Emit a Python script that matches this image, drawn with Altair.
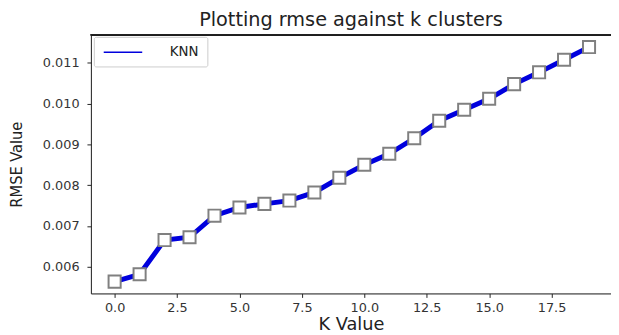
import altair as alt
import pandas as pd

k_values = list(range(20))
rmse_values = [0.00563, 0.00581, 0.00665, 0.00672, 0.00725, 0.00745, 0.00754,
               0.00762, 0.00782, 0.00818, 0.00850, 0.00877, 0.00915, 0.00958,
               0.00985, 0.01012, 0.01048, 0.01077, 0.01108, 0.01139]
series_name = ["KNN"] * 20
x_ticks = [0.0, 2.5, 5.0, 7.5, 10.0, 12.5, 15.0, 17.5]
y_ticks = [0.006, 0.007, 0.008, 0.009, 0.010, 0.011]

df = pd.DataFrame({"k": k_values, "rmse": rmse_values, "series": series_name})

W, H = 527, 262

x_enc = alt.X("k:Q", scale=alt.Scale(domain=[-0.95, 19.88], nice=False, zero=False),
              axis=alt.Axis(values=x_ticks, format=".1f", title="K Value", grid=False,
                            labelFont="DejaVu Sans", labelFontSize=13, labelColor="#333",
                            tickSize=4, labelPadding=4, domainColor="#222", tickColor="#222",
                            titleFont="DejaVu Sans", titleFontSize=18, titleFontWeight="normal",
                            titleColor="#222", titlePadding=2))
y_enc = alt.Y("rmse:Q", scale=alt.Scale(domain=[0.00534, 0.01169], nice=False, zero=False),
              axis=alt.Axis(values=y_ticks, format=".3f", title="RMSE Value", grid=False,
                            labelFont="DejaVu Sans", labelFontSize=13, labelColor="#333",
                            tickSize=4, labelPadding=8, domainColor="#222", tickColor="#222",
                            titleFont="DejaVu Sans Condensed", titleFontSize=16.5,
                            titleFontWeight="normal", titleColor="#222", titleX=-67))

line = alt.Chart(df).mark_line(strokeWidth=5, color="#0000dd").encode(
    x=x_enc, y=y_enc,
    color=alt.Color("series:N", scale=alt.Scale(range=["#0000dd"]),
                    legend=alt.Legend(title=None, orient="none", legendX=3, legendY=2,
                                      symbolType="M-3,0L3,0", symbolStrokeColor="#4a90c8",
                                      symbolStrokeWidth=1.5, symbolSize=169, symbolOffset=14,
                                      labelFont="DejaVu Sans", labelFontSize=13.5,
                                      labelColor="#222", labelOffset=40,
                                      strokeColor="#ccc", fillColor="white",
                                      padding=8, cornerRadius=2))
)
points = alt.Chart(df).mark_point(shape="square", filled=True, fill="white",
                                  stroke="#808080", strokeWidth=2, size=150, opacity=1).encode(
    x="k:Q", y="rmse:Q"
)
top_spine = alt.Chart(df).mark_rule(color="#222", strokeWidth=1).encode(
    x=alt.value(0), x2=alt.value(W), y=alt.value(0)
)

chart = alt.layer(line, points, top_spine).properties(
    width=W, height=H,
    title=alt.Title("Plotting rmse against k clusters", font="DejaVu Sans", fontSize=19.5,
                    fontWeight="normal", color="#222", anchor="middle", offset=5,
                    baseline="alphabetic", dy=16),
    autosize=alt.AutoSizeParams(type="none"),
    padding={"left": 84, "top": 25, "right": 0, "bottom": 48},
).configure_view(stroke=None).configure(background="white")

chart.save("out.html", embed_options={"renderer": "svg", "actions": False})
